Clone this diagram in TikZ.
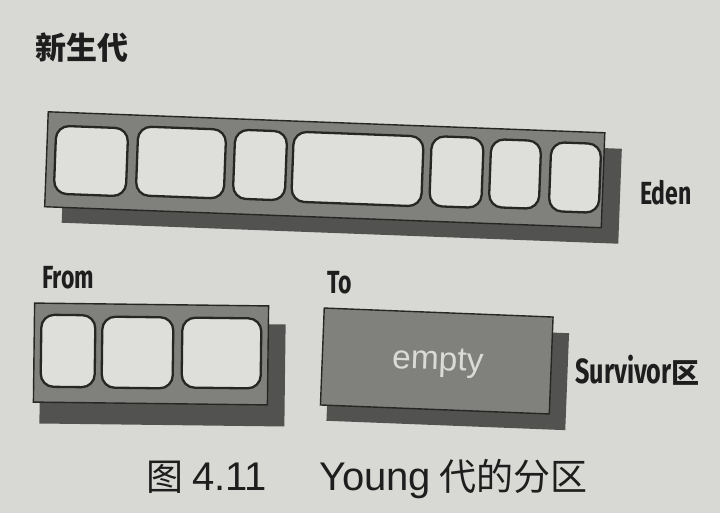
\documentclass[tikz,border=0pt]{standalone}
\usepackage{fontspec}
\newfontfamily\lblfont[FakeStretch=0.72]{Fira Sans}
\newfontfamily\cjkfont{Noto Sans CJK SC}
\newfontfamily\latfont{Liberation Sans}
\definecolor{paper}{RGB}{216,216,212}
\definecolor{boxgray}{RGB}{128,128,125}
\definecolor{shadowgray}{RGB}{82,82,80}
\definecolor{cellfill}{RGB}{222,222,218}
\definecolor{edge}{RGB}{38,38,36}
\definecolor{ink}{RGB}{30,30,30}
\definecolor{emptytext}{RGB}{218,218,214}
\tikzset{
  frontbox/.style={draw=edge, line width=1.4pt, fill=boxgray, inner sep=0pt, outer sep=0pt},
  shadowbox/.style={fill=shadowgray, inner sep=0pt, outer sep=0pt},
  cell/.style={draw=edge, line width=2.3pt, fill=cellfill, rounded corners=13pt, inner sep=0pt, outer sep=0pt},
  lbl/.style={font=\lblfont\bfseries\fontsize{32}{32}\selectfont, text=ink, inner sep=0pt, anchor=base west},
  capt/.style={text=ink, inner sep=0pt, anchor=base west},
}
\begin{document}
\begin{tikzpicture}[x=1pt,y=-1pt]
\fill[paper] (0,0) rectangle (720,513);
\useasboundingbox (0,0) rectangle (720,513);

% title
\node[capt, font=\cjkfont\bfseries\fontsize{31}{31}\selectfont] (title) at (35,60) {新生代};

% Eden
\node[shadowbox, rotate=-2.16, minimum width=557pt, minimum height=95pt] (edenshadow) at (341.75,185.75) {};
\node[frontbox, rotate=-2.16, minimum width=557pt, minimum height=95pt] (eden) at (324.75,169.75) {};
\node[cell, rotate=-2.16, minimum width=72pt, minimum height=68pt] (e1) at (91,161) {};
\node[cell, rotate=-2.16, minimum width=88pt, minimum height=69pt] (e2) at (181,162.5) {};
\node[cell, rotate=-2.16, minimum width=52pt, minimum height=69pt] (e3) at (260,165) {};
\node[cell, rotate=-2.16, minimum width=130pt, minimum height=70pt] (e4) at (357.5,169) {};
\node[cell, rotate=-2.16, minimum width=52pt, minimum height=70pt] (e5) at (456.5,172) {};
\node[cell, rotate=-2.16, minimum width=50pt, minimum height=68pt] (e6) at (515,174) {};
\node[cell, rotate=-2.16, minimum width=50pt, minimum height=69pt] (e7) at (575,177.5) {};
\node[lbl] (edenlbl) at (640,205) {Eden};

% From
\node[lbl] (fromlbl) at (42,288) {From};
\node[shadowbox, rotate=-0.7, minimum width=245pt, minimum height=102pt] (fromshadow) at (162.5,374) {};
\node[frontbox, rotate=-0.7, minimum width=234pt, minimum height=99pt] (from) at (151,354) {};
\node[cell, rotate=-0.7, minimum width=54pt, minimum height=72pt] (f1) at (68,351) {};
\node[cell, rotate=-0.7, minimum width=71pt, minimum height=71pt] (f2) at (137.5,352.5) {};
\node[cell, rotate=-0.7, minimum width=79pt, minimum height=70pt] (f3) at (221.5,353) {};

% To
\node[lbl] (tolbl) at (327,293) {To};
\node[shadowbox, rotate=-2.25, minimum width=239pt, minimum height=97pt] (toshadow) at (447.75,377) {};
\node[frontbox, rotate=-2.25, minimum width=229pt, minimum height=97pt] (to) at (436.75,361) {};
\node[inner sep=0pt, anchor=base, rotate=-2.25, text=emptytext, font=\latfont\fontsize{33.5}{33.5}\selectfont] (emptylbl) at (437.5,370) {empty};

% Survivor
\node[lbl] (survlbl) at (575,383) {\fontsize{35}{35}\selectfont Survivor{\cjkfont\bfseries\fontsize{28}{28}\selectfont 区}};

% caption
\node[capt, font=\cjkfont\fontsize{37}{37}\selectfont] (cap1) at (146,490) {图};
\node[capt, font=\latfont\fontsize{40}{40}\selectfont] (cap2) at (192,490) {4.11};
\node[capt, font=\latfont\fontsize{40}{40}\selectfont] (cap3) at (319,490) {Young\hspace{8pt}{\cjkfont\fontsize{37}{37}\selectfont 代的分区}};
\end{tikzpicture}
\end{document}
